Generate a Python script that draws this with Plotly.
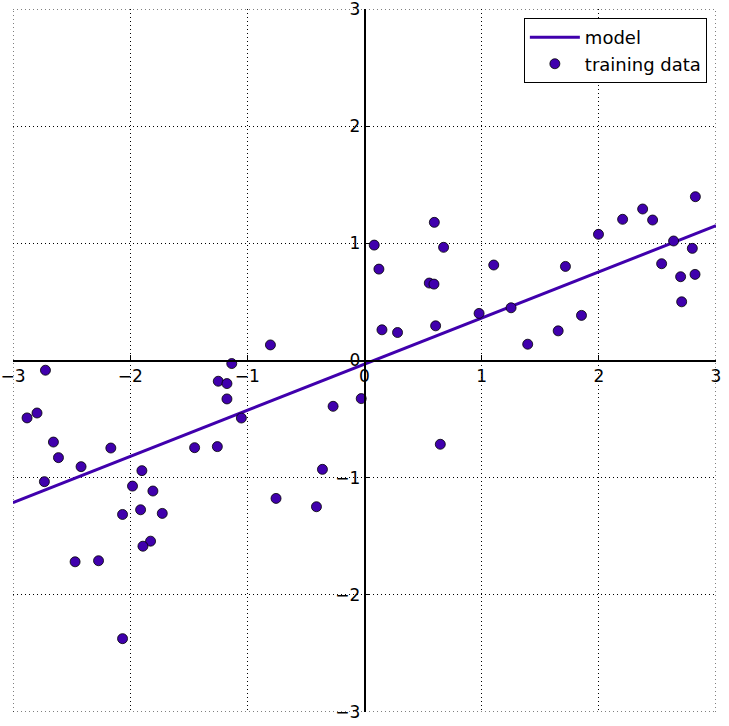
import plotly.graph_objects as go

# training data
x_train = [-2.723, -2.880, -2.795, -2.655, -2.612, -2.419, -2.732, -2.165, -2.470, -2.270,
           -2.065, -2.065, -1.980, -1.900, -1.806, -1.911, -1.726, -1.826, -1.891, -1.450,
           -1.256, -1.248, -1.174, -1.174, -1.133, -1.051,
           -0.803, -0.268, -0.028, -0.359, -0.755, -0.410,
           0.596, 0.083, 0.675, 0.123, 1.103, 0.553, 0.593, 0.149, 0.282, 0.607, 0.978,
           1.251, 1.393, 0.647,
           2.824, 2.374, 2.203, 2.459, 1.997, 2.638, 2.798, 2.536, 1.715, 2.698, 2.821,
           2.707, 1.852, 1.653]
y_train = [-0.083, -0.490, -0.448, -0.696, -0.829, -0.906, -1.034, -0.747, -1.718, -1.709,
           -1.314, -2.374, -1.072, -0.940, -1.114, -1.274, -1.305, -1.542, -1.585, -0.744,
           -0.735, -0.177, -0.197, -0.328, -0.026, -0.491,
           0.133, -0.391, -0.325, -0.929, -1.177, -1.248,
           1.179, 0.985, 0.966, 0.780, 0.815, 0.661, 0.652, 0.262, 0.239, 0.296, 0.402,
           0.450, 0.139, -0.715,
           1.398, 1.293, 1.205, 1.199, 1.077, 1.020, 0.957, 0.826, 0.803, 0.715, 0.735,
           0.501, 0.385, 0.253]

model_x = [-3.0, 3.0]
model_y = [-1.2135, 1.1503]

tick_vals = [-3, -2, -1, 0, 1, 2, 3]
tick_text = ["\u22123", "\u22122", "\u22121", "0", "1", "2", "3"]

color = "#4000AD"
grid_dash = "1px,3px"

fig = go.Figure()
fig.add_trace(go.Scatter(x=model_x, y=model_y, mode="lines", name="model",
                         line=dict(color=color, width=3)))
fig.add_trace(go.Scatter(x=x_train, y=y_train, mode="markers", name="training data",
                         marker=dict(color=color, size=10,
                                     line=dict(color="black", width=0.8))))

# dotted grid lines at the range edges (plotly skips gridlines at the ends)
for v in (tick_vals[0], tick_vals[-1]):
    fig.add_shape(type="line", xref="x", yref="paper", x0=v, x1=v, y0=0, y1=1,
                  line=dict(color="black", width=1, dash=grid_dash), layer="below")
    fig.add_shape(type="line", xref="paper", yref="y", x0=0, x1=1, y0=v, y1=v,
                  line=dict(color="black", width=1, dash=grid_dash), layer="below")

axis_common = dict(
    range=[-3, 3], tickvals=tick_vals, ticktext=tick_text,
    showgrid=True, gridcolor="black", griddash=grid_dash, gridwidth=1,
    zeroline=False, showline=True, linecolor="black", linewidth=1.5,
    ticks="inside", ticklen=5, tickcolor="black", tickwidth=1,
    anchor="free", position=0.5, automargin=False,
    ticklabeloverflow="allow",
    tickfont=dict(family="DejaVu Sans", size=17, color="black"),
)

fig.update_layout(
    width=729, height=726,
    margin=dict(l=13, r=13, t=9, b=14),
    plot_bgcolor="white", paper_bgcolor="white",
    xaxis=axis_common,
    yaxis=axis_common,
    showlegend=True,
    legend=dict(x=0.987, y=0.987, xanchor="right", yanchor="top",
                bgcolor="white", bordercolor="black", borderwidth=1,
                itemwidth=50,
                font=dict(family="DejaVu Sans", size=18, color="black")),
)

fig.write_html("out.html")
